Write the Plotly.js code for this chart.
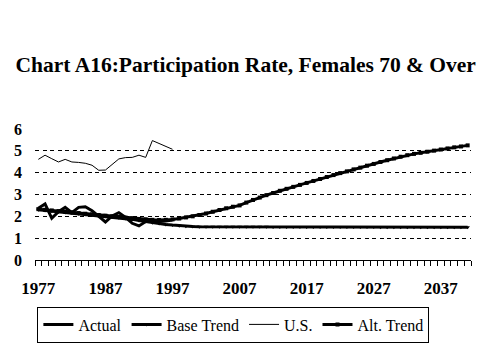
<!DOCTYPE html>
<html><head><meta charset="utf-8">
<script src="https://cdn.plot.ly/plotly-3.0.1.min.js"></script>
<style>html,body{margin:0;padding:0;background:#fff;}#chart{width:479px;height:359px;}</style>
</head><body><div id="chart"></div>
<script>
var actualYears = [1977,1978,1979,1980,1981,1982,1983,1984,1985,1986,1987,1988,1989,1990,1991,1992,1993,1994,1995,1996,1997];
var actualVals  = [2.37,2.57,1.91,2.21,2.41,2.17,2.41,2.44,2.26,2.02,1.74,2.02,2.17,1.95,1.68,1.56,1.76,1.80,1.76,1.79,1.83];

var usYears = [1977,1978,1979,1980,1981,1982,1983,1984,1985,1986,1987,1988,1989,1990,1991,1992,1993,1994,1995,1996,1997];
var usVals  = [4.61,4.80,4.64,4.49,4.61,4.49,4.47,4.43,4.34,4.11,4.12,4.38,4.63,4.69,4.70,4.80,4.70,5.47,5.34,5.22,5.07];

var trendYears = [1977,1978,1979,1980,1981,1982,1983,1984,1985,1986,1987,1988,1989,1990,1991,1992,1993,1994,1995,1996,
  1997,1998,1999,2000,2001,2002,2003,2004,2005,2006,2007,2008,2009,2010,2011,2012,2013,2014,2015,2016,
  2017,2018,2019,2020,2021,2022,2023,2024,2025,2026,2027,2028,2029,2030,2031,2032,2033,2034,2035,2036,
  2037,2038,2039,2040,2041];

var baseVals = [2.30,2.27,2.24,2.21,2.18,2.15,2.12,2.09,2.06,2.03,2.00,1.97,1.94,1.90,1.86,1.81,1.76,1.71,1.67,1.63,
  1.60,1.57,1.55,1.53,1.52,1.52,1.52,1.52,1.52,1.52,1.52,1.52,1.52,1.52,1.52,1.51,1.51,1.51,1.51,1.51,
  1.51,1.51,1.51,1.51,1.51,1.51,1.51,1.51,1.51,1.51,1.51,1.50,1.50,1.50,1.50,1.50,1.50,1.50,1.50,1.50,
  1.50,1.50,1.50,1.50,1.50];

var altVals = [2.33,2.30,2.27,2.24,2.21,2.18,2.15,2.12,2.09,2.06,2.03,2.00,1.97,1.94,1.91,1.88,1.86,1.84,1.83,1.84,
  1.86,1.90,1.95,2.00,2.06,2.13,2.21,2.29,2.37,2.44,2.50,2.63,2.75,2.86,2.97,3.07,3.17,3.26,3.35,3.44,
  3.53,3.62,3.71,3.80,3.89,3.98,4.06,4.15,4.23,4.32,4.40,4.49,4.57,4.65,4.73,4.80,4.86,4.91,4.96,5.01,
  5.06,5.11,5.16,5.20,5.25];

var xLabels = [1977,1987,1997,2007,2017,2027,2037];

var serif = "Liberation Serif, Times New Roman, serif";

var traces = [
  {x: actualYears, y: actualVals, name: 'Actual', mode: 'lines', line: {color: '#000', width: 3}},
  {x: trendYears, y: baseVals, name: 'Base Trend', mode: 'lines+markers', line: {color: '#000', width: 3},
   marker: {symbol: 'triangle-down', size: 4, color: '#000'}},
  {x: usYears, y: usVals, name: 'U.S.', mode: 'lines', line: {color: '#000', width: 1}},
  {x: trendYears, y: altVals, name: 'Alt. Trend', mode: 'lines+markers', line: {color: '#000', width: 3},
   marker: {symbol: 'square', size: 4, color: '#000'}}
];

var layout = {
  width: 479, height: 359,
  margin: {l: 35, r: 8, t: 129, b: 99},
  paper_bgcolor: '#fff', plot_bgcolor: '#fff',
  showlegend: true,
  title: {text: 'Chart A16:Participation Rate, Females 70 & Over',
          font: {family: serif, size: 21.5, color: '#000', weight: 'bold'},
          x: 0.513, xanchor: 'center', y: 1 - 64/359, yanchor: 'middle'},
  xaxis: {
    range: [1976.5, 2041.5], tickvals: xLabels, ticktext: xLabels.map(String),
    ticks: '', showgrid: false, zeroline: false,
    showline: true, linecolor: '#000', linewidth: 1,
    tickfont: {family: serif, size: 17, color: '#000', weight: 'bold'},
    ticklabelstandoff: 13,
    minor: {tick0: 1976.5, dtick: 1, ticks: 'outside', ticklen: 5, tickcolor: '#000', tickwidth: 1, showgrid: false}
  },
  yaxis: {
    range: [0, 6], tickvals: [0,1,2,3,4,5,6], ticks: '', showline: false, zeroline: false,
    showgrid: true, gridcolor: '#000', gridwidth: 1, griddash: '4px,3.5px',
    tickfont: {family: serif, size: 16, color: '#000', weight: 'bold'},
    ticklabelstandoff: 12
  },
  legend: {
    orientation: 'h', x: 0.455, xanchor: 'center', y: -0.355, yanchor: 'top',
    bordercolor: '#000', borderwidth: 1, bgcolor: '#fff',
    font: {family: serif, size: 16, color: '#000'},
    itemwidth: 30, tracegroupgap: 0
  }
};

Plotly.newPlot('chart', traces, layout, {displayModeBar: false, staticPlot: true});
</script></body></html>
